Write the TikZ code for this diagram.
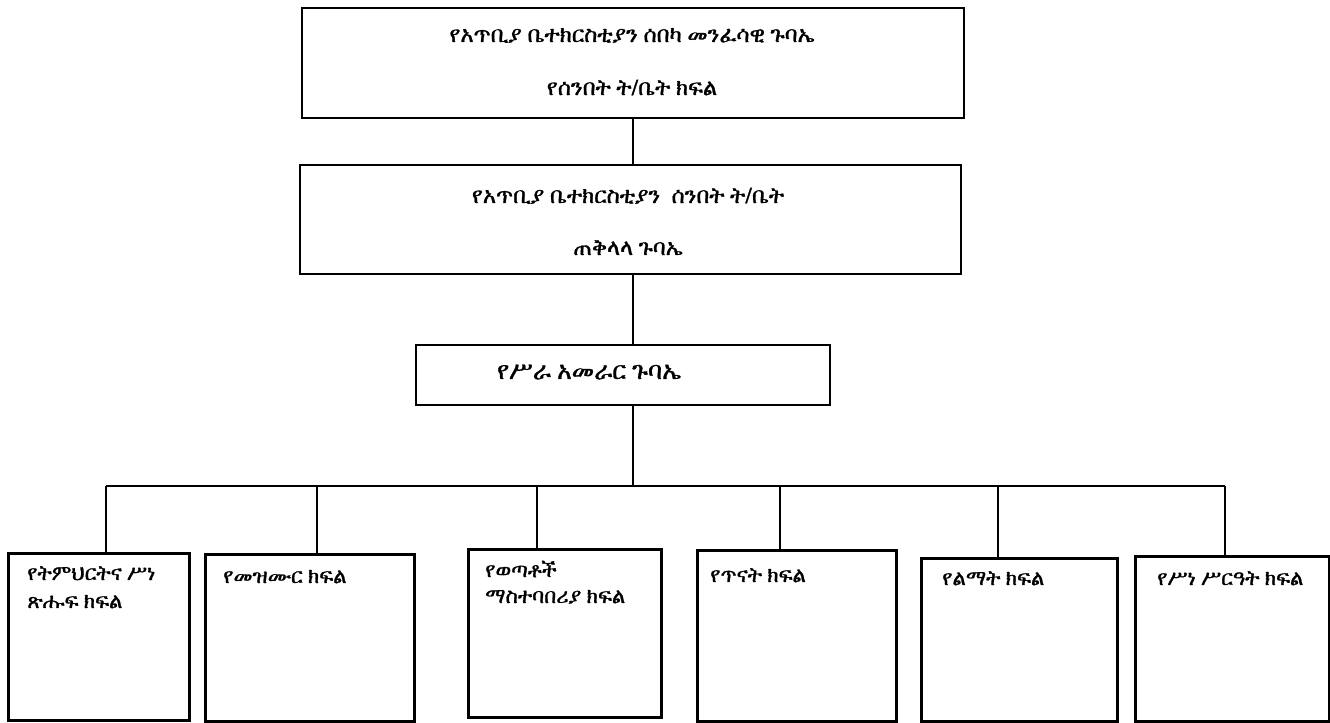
\documentclass[tikz,border=0pt]{standalone}
\usepackage{fontspec}
\def\ethset#1#2{\newfontfamily\eth{#2}[Path=#1, FakeBold=1.2]}
\IfFileExists{/usr/share/fonts/truetype/freefont/FreeSerif.ttf}{\ethset{/usr/share/fonts/truetype/freefont/}{FreeSerif.ttf}}{%
\IfFileExists{/usr/share/fonts/opentype/freefont/FreeSerif.otf}{\ethset{/usr/share/fonts/opentype/freefont/}{FreeSerif.otf}}{%
\IfFileExists{/usr/share/fonts/truetype/abyssinica/AbyssinicaSIL-Regular.ttf}{\ethset{/usr/share/fonts/truetype/abyssinica/}{AbyssinicaSIL-Regular.ttf}}{%
\IfFileExists{/usr/share/fonts/truetype/noto/NotoSansEthiopic-Regular.ttf}{\ethset{/usr/share/fonts/truetype/noto/}{NotoSansEthiopic-Regular.ttf}}{%
\IfFileExists{/usr/share/fonts/truetype/noto/NotoSerifEthiopic-Regular.ttf}{\ethset{/usr/share/fonts/truetype/noto/}{NotoSerifEthiopic-Regular.ttf}}{%
\newfontfamily\eth{DejaVu Sans}}}}}}
\newlength\ethw
\newcommand\ethsize[3]{%
  \settowidth\ethw{\eth\fontsize{10}{12}\selectfont #2}%
  \ifdim\ethw<5pt \ethw=#3pt\relax\fi
  \pgfmathsetmacro#1{10*#3/\ethw}}
\begin{document}
\ethsize\szTop{የአጥቢያ ቤተክርስቲያን ሰበካ መንፈሳዊ ጉባኤ}{273.75}%
\ethsize\szMid{የሥራ አመራር ጉባኤ}{138}%
\ethsize\szLow{ማስተባበሪያ ክፍል}{105}%
\begin{tikzpicture}[x=0.75pt,y=-0.75pt,
  box/.style={draw=black, line width=1.5pt, inner sep=0pt, anchor=north west},
  lowbox/.style={box, line width=2pt},
  conn/.style={draw=black, line width=1.5pt},
  toptext/.style={font=\eth\fontsize{\szTop}{\szTop}\selectfont, inner sep=0pt, anchor=base},
  midtext/.style={font=\eth\fontsize{\szMid}{\szMid}\selectfont, inner sep=0pt, anchor=base},
  lowtext/.style={font=\eth\fontsize{\szLow}{\szLow}\selectfont, inner sep=0pt, anchor=base west}]
\fill[white] (0,0) rectangle (1330,722);
\useasboundingbox (0,0) rectangle (1330,722);
% boxes
\node[box, minimum width=662*0.75pt, minimum height=110*0.75pt] (b1) at (301,7) {};
\node[box, minimum width=661*0.75pt, minimum height=109*0.75pt] (b2) at (299,164) {};
\node[box, minimum width=414*0.75pt, minimum height=60*0.75pt] (b3) at (415,344) {};
\node[lowbox, minimum width=181*0.75pt, minimum height=167*0.75pt] (ba) at (7,552) {};
\node[lowbox, minimum width=209*0.75pt, minimum height=167*0.75pt] (bb) at (204,553) {};
\node[lowbox, minimum width=193*0.75pt, minimum height=168*0.75pt] (bc) at (467,548) {};
\node[lowbox, minimum width=199*0.75pt, minimum height=171*0.75pt] (bd) at (696,549) {};
\node[lowbox, minimum width=196*0.75pt, minimum height=163*0.75pt] (be) at (920,557) {};
\node[lowbox, minimum width=194*0.75pt, minimum height=165*0.75pt] (bf) at (1134,555) {};
% texts
\node[toptext] (t1a) at (632,42) {የአጥቢያ ቤተክርስቲያን ሰበካ መንፈሳዊ ጉባኤ};
\node[toptext] (t1b) at (632,95) {የሰንበት ት/ቤት ክፍል};
\node[toptext] (t2a) at (628,203) {የአጥቢያ ቤተክርስቲያን\ \ ሰንበት ት/ቤት};
\node[toptext] (t2b) at (628,255) {ጠቅላላ ጉባኤ};
\node[midtext] (t3) at (589,379) {የሥራ አመራር ጉባኤ};
\node[lowtext] (ta1) at (27,580) {የትምህርትና ሥነ};
\node[lowtext] (ta2) at (27,608) {ጽሑፍ ክፍል};
\node[lowtext] (tb) at (223,583) {የመዝሙር ክፍል};
\node[lowtext] (tc1) at (485,577) {የወጣቶች};
\node[lowtext] (tc2) at (485,603) {ማስተባበሪያ ክፍል};
\node[lowtext] (td) at (710,582) {የጥናት ክፍል};
\node[lowtext] (te) at (942,585) {የልማት ክፍል};
\node[lowtext] (tf) at (1157,585) {የሥነ ሥርዓት ክፍል};
% connectors
\coordinate (spine) at (633,0);
\coordinate (busL) at (106,486);
\coordinate (busR) at (1225,486);
\coordinate (dB) at (317,486);
\coordinate (dC) at (537,486);
\coordinate (dD) at (780,486);
\coordinate (dE) at (998,486);
\draw[conn] (b1.south -| spine) -- (b2.north -| spine);
\draw[conn] (b2.south -| spine) -- (b3.north -| spine);
\draw[conn] (b3.south -| spine) -- (spine |- busL);
\draw[conn] (busL) -- (busR);
\draw[conn] (busL) -- (ba.north -| busL);
\draw[conn] (dB) -- (bb.north -| dB);
\draw[conn] (dC) -- (bc.north -| dC);
\draw[conn] (dD) -- (bd.north -| dD);
\draw[conn] (dE) -- (be.north -| dE);
\draw[conn] (busR) -- (bf.north -| busR);
\end{tikzpicture}
\end{document}
